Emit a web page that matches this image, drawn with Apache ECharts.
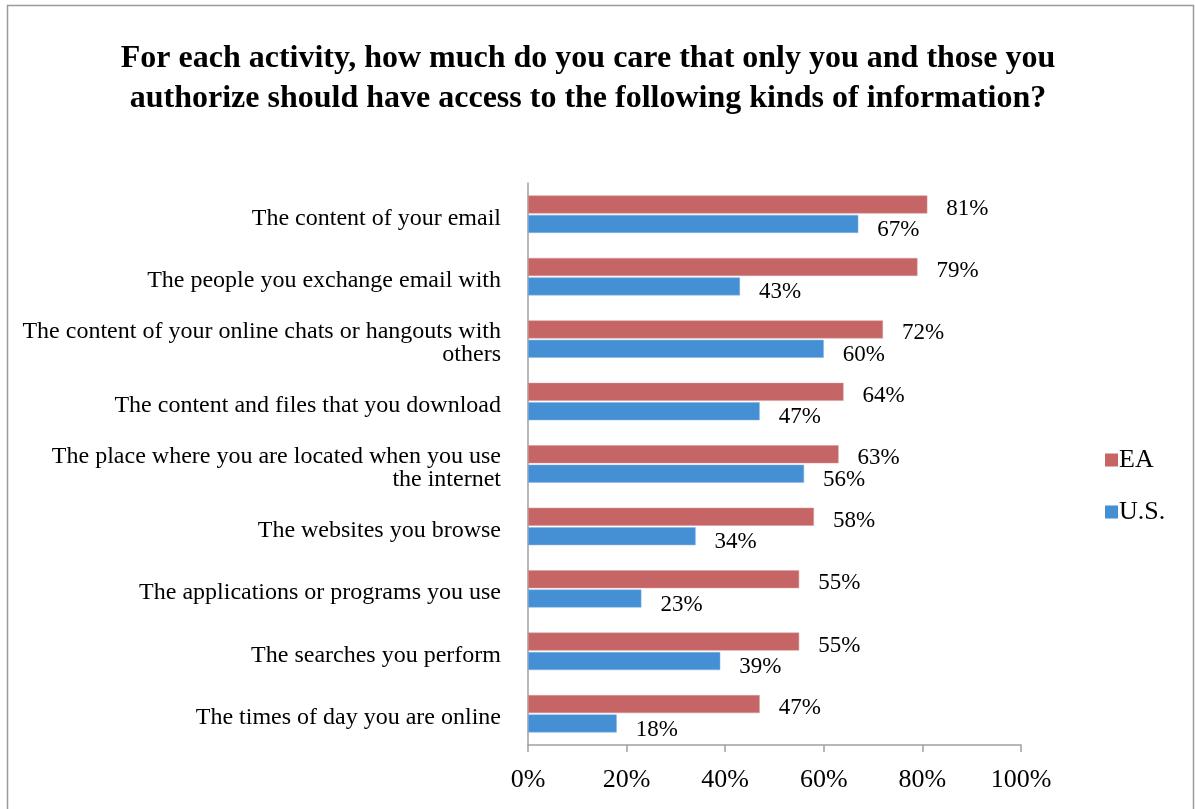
<!DOCTYPE html>
<html>
<head>
<meta charset="utf-8">
<script src="https://cdn.jsdelivr.net/npm/echarts@6/dist/echarts.min.js"></script>
<style>
  html, body { margin: 0; padding: 0; background: #fff; }
  #chart { width: 1195px; height: 809px; }
</style>
</head>
<body>
<div id="chart"></div>
<script>
// Survey items, listed top to bottom
const categories = [
  'The content of your email',
  'The people you exchange email with',
  'The content of your online chats or hangouts with\nothers',
  'The content and files that you download',
  'The place where you are located when you use\nthe internet',
  'The websites you browse',
  'The applications or programs you use',
  'The searches you perform',
  'The times of day you are online'
];
// Share of respondents (%) who care, per item
const eaValues = [81, 79, 72, 64, 63, 58, 55, 55, 47];
const usValues = [67, 43, 60, 47, 56, 34, 23, 39, 18];
const xTicks = [0, 20, 40, 60, 80, 100];

const serif = '"Liberation Serif", "Times New Roman", serif';
const chart = echarts.init(document.getElementById('chart'));

const labelStyle = (dy) => ({
  show: true,
  position: 'right',
  distance: 19,
  offset: [0, dy],
  formatter: '{c}%',
  fontFamily: serif,
  fontSize: 23,
  color: '#000'
});

// The first line of each category label uses a taller line box with the
// text pinned to its bottom, so labels sit slightly below their band centre
const categoryLabel = (v) =>
  v.split('\n').map((s, i) => (i === 0 ? '{p|' : '{n|') + s + '}').join('\n');

const catText = { fontFamily: serif, fontSize: 24, color: '#000', align: 'right' };

chart.setOption({
  animation: false,
  backgroundColor: '#fff',
  graphic: [{
    type: 'rect',
    shape: { x: 7.5, y: 5.5, width: 1186, height: 830 },
    style: { fill: 'none', stroke: '#9a9a9a', lineWidth: 1.5 },
    silent: true
  }],
  title: {
    text: 'For each activity, how much do you care that only you and those you\nauthorize should have access to the following kinds of information?',
    left: 583,
    textAlign: 'center',
    top: 34,
    textStyle: {
      fontFamily: serif,
      fontWeight: 'bold',
      fontSize: 32,
      lineHeight: 40,
      color: '#000'
    }
  },
  legend: {
    orient: 'vertical',
    left: 1100,
    top: 442,
    itemWidth: 13,
    itemHeight: 13,
    itemGap: 26,
    icon: 'rect',
    itemStyle: { borderWidth: 0 },
    textStyle: { fontFamily: serif, fontSize: 26, color: '#000', padding: [0, 0, 0, -4] },
    data: ['EA', 'U.S.']
  },
  grid: { left: 528, right: 174, top: 183, bottom: 64, containLabel: false },
  xAxis: {
    type: 'value',
    min: 0,
    max: 100,
    interval: 20,
    splitLine: { show: false },
    axisLine: { show: true, lineStyle: { color: '#a0a0a0', width: 1.5 } },
    axisTick: { show: true, length: 7, lineStyle: { color: '#a0a0a0', width: 1.5 } },
    axisLabel: {
      margin: 22,
      fontFamily: serif,
      fontSize: 26,
      color: '#000',
      formatter: (v) => (xTicks.includes(v) ? v + '%' : '')
    }
  },
  yAxis: {
    type: 'category',
    inverse: true,
    data: categories,
    axisLine: { show: true, lineStyle: { color: '#a0a0a0', width: 1.5 } },
    axisTick: { show: false },
    axisLabel: {
      margin: 27,
      align: 'right',
      fontFamily: serif,
      fontSize: 24,
      color: '#000',
      formatter: categoryLabel,
      rich: {
        p: Object.assign({ lineHeight: 32, verticalAlign: 'bottom' }, catText),
        n: Object.assign({ lineHeight: 23 }, catText)
      }
    }
  },
  series: [
    {
      name: 'EA',
      type: 'bar',
      data: eaValues,
      barWidth: 18,
      barGap: '8%',
      itemStyle: { color: '#c56565', borderColor: '#d49a9a', borderWidth: 0.5 },
      label: labelStyle(4)
    },
    {
      name: 'U.S.',
      type: 'bar',
      data: usValues,
      barWidth: 18,
      barGap: '8%',
      itemStyle: { color: '#458fd5', borderColor: '#8ab6e2', borderWidth: 0.5 },
      label: labelStyle(6)
    }
  ]
});
</script>
</body>
</html>
